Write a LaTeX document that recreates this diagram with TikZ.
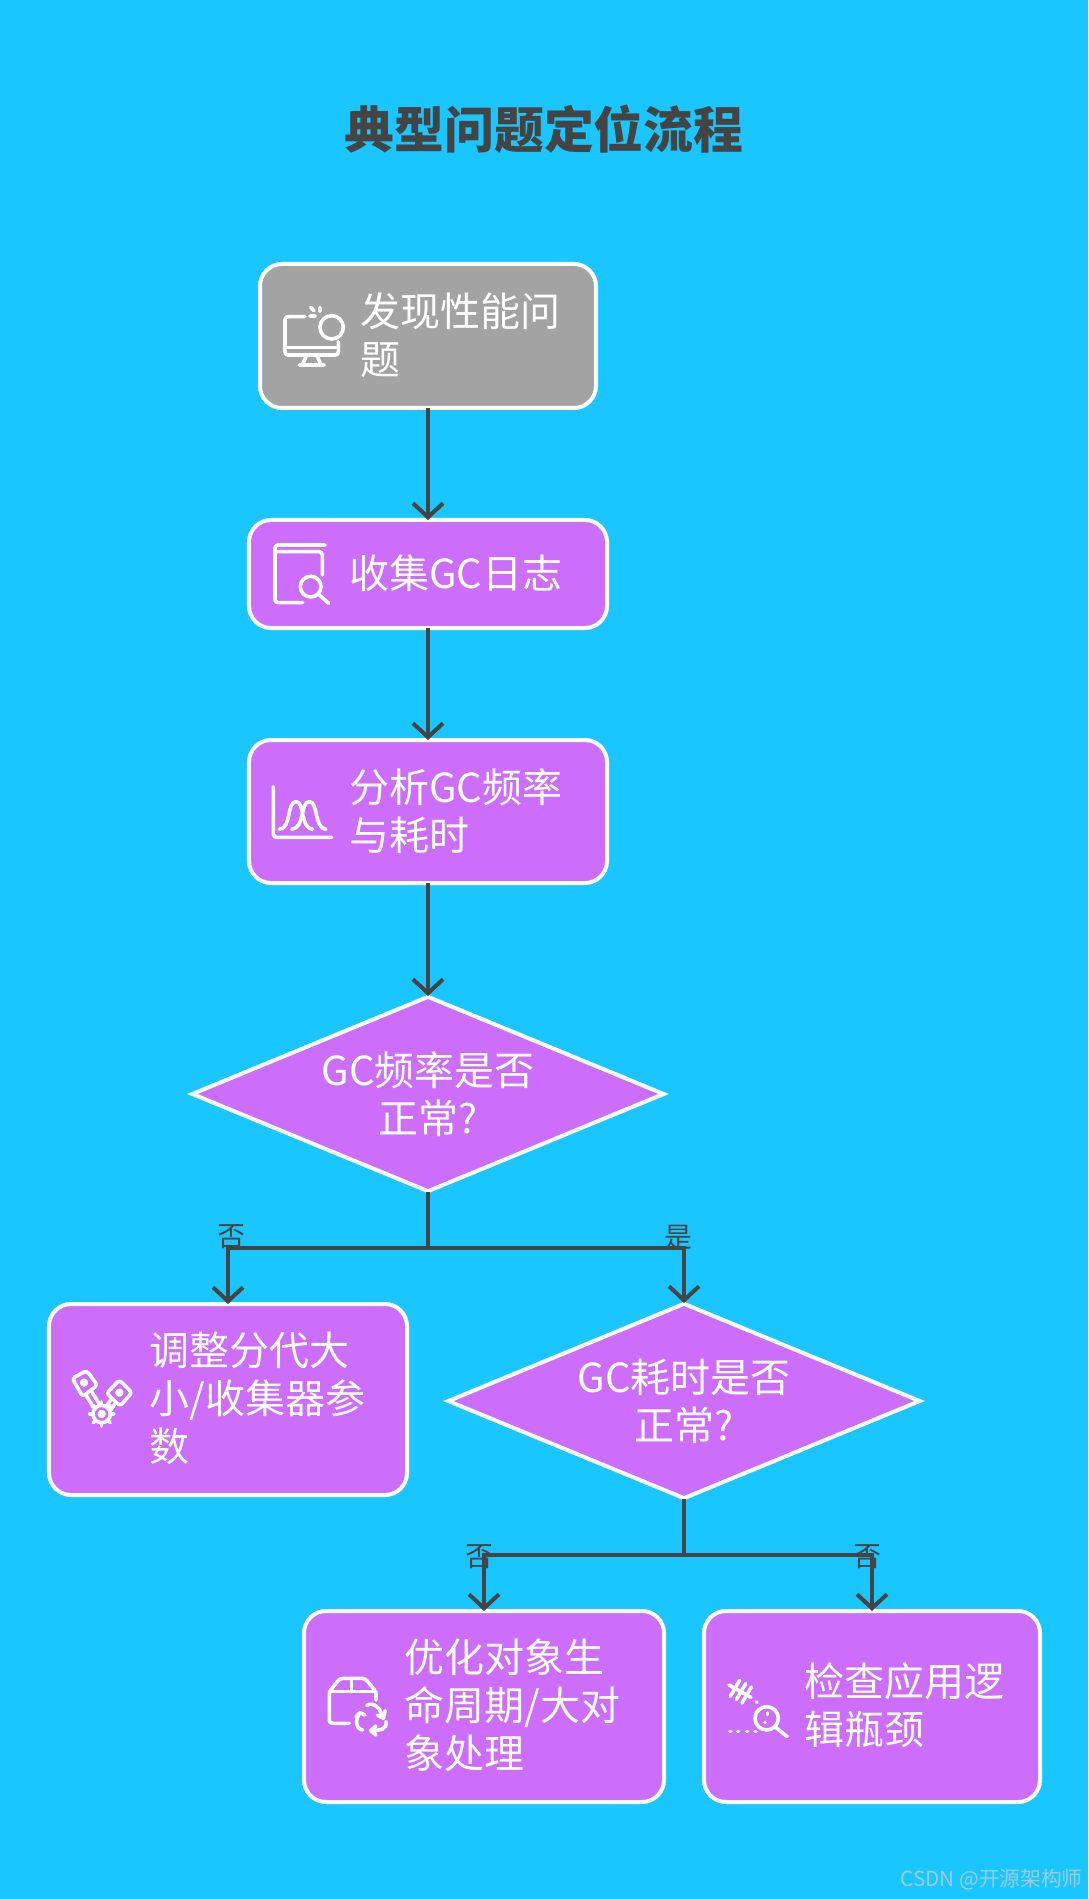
\documentclass[tikz,border=0pt]{standalone}
\usepackage{fontspec}
\setmainfont{Noto Sans CJK SC}
\usetikzlibrary{arrows.meta,shapes.geometric}
\definecolor{skyback}{HTML}{1AC6FF}
\definecolor{boxpurple}{HTML}{CC6EFB}
\definecolor{boxgray}{HTML}{A3A3A3}
\definecolor{inkgray}{HTML}{444444}
\definecolor{markgray}{HTML}{9CCDE0}
\tikzset{
  stepbox/.style={draw=white,line width=2bp,fill=boxpurple,rounded corners=11bp},
  choice/.style={diamond,draw=white,line width=2bp,fill=boxpurple,inner sep=0pt,shape aspect=2.4,
    minimum width=236.5bp,minimum height=98bp,align=center,text=white,boxfont},
  boxfont/.style={font=\fontsize{20.07}{24.1}\selectfont},
  boxtext/.style={anchor=west,align=left,text=white,inner sep=0pt,boxfont},
  answer/.style={text=inkgray,inner sep=0pt,font=\fontsize{14}{16}\selectfont},
  flow/.style={draw=inkgray,line width=2bp,shorten >=-1bp,shorten <=-1bp,-{Straight Barb[length=7bp,width=15bp,line width=2bp]}},
  link/.style={draw=inkgray,line width=2bp,shorten <=-1bp},
  icon/.style={x=0.16667bp,y=-0.16667bp,draw=white,line width=1.8bp,line cap=round,line join=round,rounded corners=1.5bp},
}
\begin{document}
\begin{tikzpicture}[x=0.5bp,y=-0.5bp]
\useasboundingbox (0,0) rectangle (1088,1899);
\fill[skyback] (0,0) rectangle (1088,1899);
\node (title) [text=inkgray,font=\fontsize{25}{30}\selectfont\bfseries] at (544,129) {典型问题定位流程};

% boxes
\node (found) [stepbox,fill=boxgray,minimum width=168bp,minimum height=72bp] at (428,336) {};
\node (collect) [stepbox,minimum width=179bp,minimum height=54bp] at (428,574) {};
\node (analyse) [stepbox,minimum width=179bp,minimum height=71.5bp] at (428,811.5) {};
\node (freqok) [choice] at (428,1094) {GC频率是否\\正常?};
\node (adjust) [stepbox,minimum width=179bp,minimum height=95.5bp] at (228,1399.5) {};
\node (timeok) [choice] at (684,1401) {GC耗时是否\\正常?};
\node (tune) [stepbox,minimum width=180bp,minimum height=95.5bp] at (484,1706.5) {};
\node (check) [stepbox,minimum width=168bp,minimum height=95.5bp] at (872,1706.5) {};

% box texts
\node (foundtext) [boxtext] at (360,335) {发现性能问\\题};
\node (collecttext) [boxtext] at (349,573) {收集GC日志};
\node (analysetext) [boxtext] at (349,811) {分析GC频率\\与耗时};
\node (adjusttext) [boxtext] at (149,1398) {调整分代大\\小/收集器参\\数};
\node (tunetext) [boxtext] at (404,1705) {优化对象生\\命周期/大对\\象处理};
\node (checktext) [boxtext] at (804,1705) {检查应用逻\\辑瓶颈};

% connectors
\coordinate (split1) at (428,1248);
\coordinate (split2) at (684,1555);
\draw[flow] (found) -- (collect);
\draw[flow] (collect) -- (analyse);
\draw[flow] (analyse) -- (freqok);
\draw[link] (freqok) -- (split1);
\draw[flow] (split1) -| (adjust);
\draw[flow] (split1) -| (timeok);
\draw[link] (timeok) -- (split2);
\draw[flow] (split2) -| (tune);
\draw[flow] (split2) -| (check);

\node (no1) [answer] at (231,1237) {否};
\node (yes1) [answer] at (678,1237) {是};
\node (no2) [answer] at (479,1557) {否};
\node (no3) [answer] at (867,1557) {否};

\node (mark) [anchor=east,text=markgray,inner sep=0pt,font=\fontsize{10.4}{12}\selectfont] at (1083,1880) {CSDN @开源架构师};

% icons, in the 3x crop coordinates
\begin{scope}[shift={(240,250)},icon]
\draw (195,200) -- (135,200) -- (135,315) -- (295,315) -- (295,275);
\draw (135,292) -- (295,292);
\draw (200,315) -- (187,345) (230,315) -- (243,345) (178,345) -- (252,345);
\draw (275,232) circle (35);
\draw (240,172) -- (240,184) (212,172) -- (222,182) (210,198) -- (226,198);
\end{scope}

\begin{scope}[shift={(240,250)},icon]
\draw (255,885) -- (105,885) -- (105,1058) -- (188,1058);
\draw (105,905) -- (247,905) -- (247,975);
\draw (212,1010) circle (31);
\draw (238,1035) -- (266,1060);
\end{scope}

\begin{scope}[shift={(240,730)},icon]
\draw (100,170) -- (100,322) -- (275,322);
\draw[rounded corners=0pt] (118,298) .. controls (155,295) and (140,215) .. (168,215) .. controls (195,215) and (180,295) .. (218,298);
\draw[rounded corners=0pt] (155,298) .. controls (195,295) and (180,215) .. (208,215) .. controls (235,215) and (222,295) .. (258,298);
\end{scope}

\begin{scope}[shift={(40,1200)},icon]
\draw (97,535) -- (140,512) -- (172,555) -- (128,590) -- cycle;
\draw (238,540) -- (276,578) -- (240,618) -- (200,580) -- cycle;
\draw (132,548) circle (7) (238,578) circle (7);
\draw (138,585) -- (160,622) (155,575) -- (178,612) (212,600) -- (198,620) (225,612) -- (212,630);
\draw (185,642) circle (7) (185,642) circle (26);
\foreach \ang in {0,45,...,315}
  \draw[rotate around={\ang:(185,642)}] (185,616) -- (185,606);
\end{scope}

\begin{scope}[shift={(300,1520)},icon]
\draw (148,610) -- (88,610) -- (88,515) -- (120,475) -- (195,475) -- (228,515) -- (228,540);
\draw (88,515) -- (228,515) (155,475) -- (155,515);
\draw[rounded corners=0pt] (200,556) .. controls (225,545) and (240,565) .. (250,595) (232,585) -- (250,595) -- (256,572);
\draw[rounded corners=0pt] (188,630) .. controls (165,625) and (165,600) .. (180,578) (168,590) -- (180,578) -- (195,585);
\draw[rounded corners=0pt] (258,605) .. controls (262,625) and (245,632) .. (212,632) (228,618) -- (212,632) -- (228,645);
\end{scope}

\begin{scope}[shift={(300,1520)},icon]
\draw (1400,595) circle (35);
\draw (1427,622) -- (1462,650);
\draw (1403,578) -- (1403,584) (1395,607) -- (1396,607);
\foreach \px in {1290,1313,1340,1365}
  \draw (\px,635) -- (\px+3,635);
\draw (1287,495) -- (1353,532) (1370,546) -- (1371,547);
\draw (1319,481) -- (1291,529) (1337,491) -- (1309,539) (1354,501) -- (1326,549);
\end{scope}
\end{tikzpicture}
\end{document}
